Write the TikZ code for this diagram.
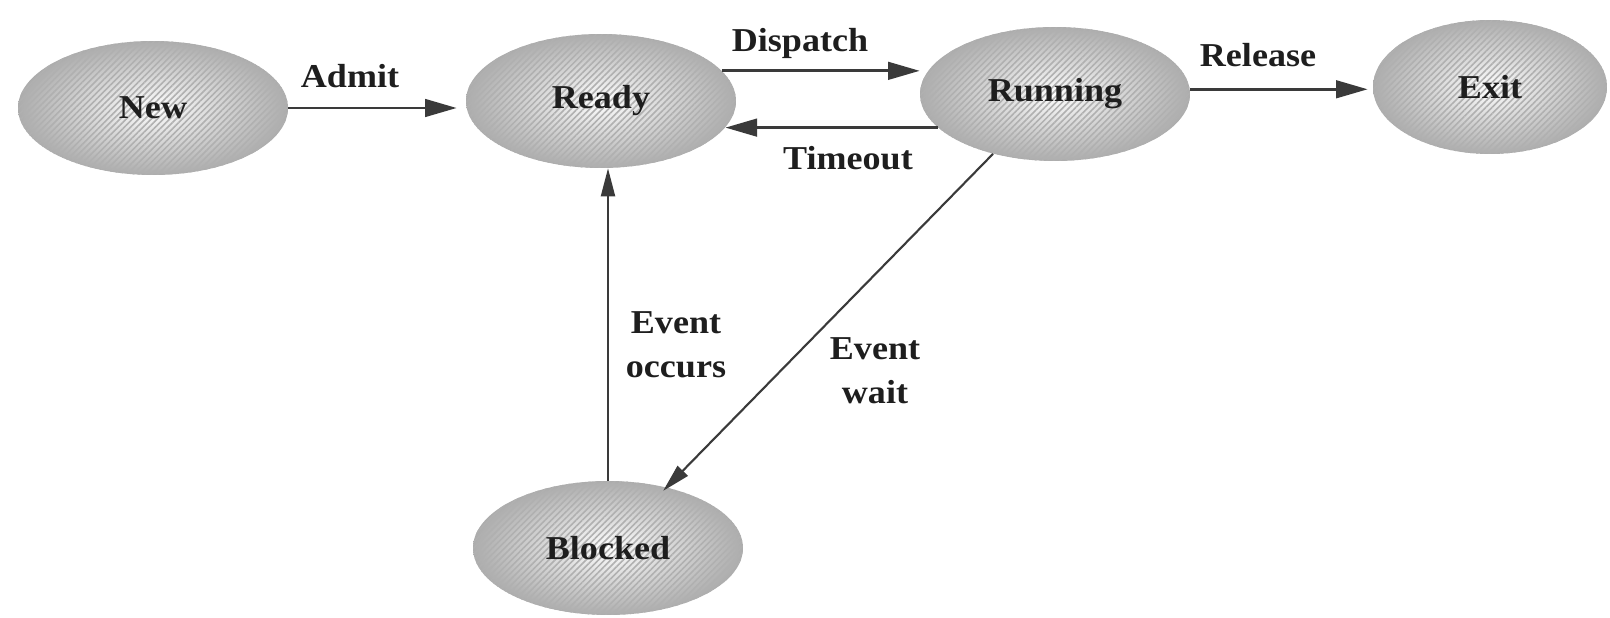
\documentclass[tikz,border=0pt]{standalone}
\usepackage{fontspec}
\setmainfont{Liberation Serif}[FakeStretch=1.08]
\usetikzlibrary{shapes.geometric,arrows.meta,patterns.meta}
\definecolor{inkc}{HTML}{1E1E1E}
\definecolor{arrc}{HTML}{3A3A3A}
\tikzset{
  state/.style={ellipse, inner sep=0pt, minimum width=5.4cm, minimum height=2.68cm,
    text=inkc, font=\fontsize{19pt}{22pt}\selectfont\bfseries,
    shading=radial, inner color=white, outer color=gray!65,
    postaction={pattern={Lines[angle=45,distance=2.5pt,line width=0.9pt]}, pattern color=gray!62}},
  lbl/.style={inner sep=0pt, text=inkc, font=\fontsize{19pt}{25pt}\selectfont\bfseries, align=center},
  arr/.style={draw=arrc, line width=1.6pt, -{Triangle[length=18pt,width=10pt]}},
  thinarr/.style={draw=arrc, line width=1.2pt, -{Triangle[length=16pt,width=8pt]}}
}
\begin{document}
\begin{tikzpicture}[x=0.02cm,y=-0.02cm]
\useasboundingbox (0,0) rectangle (1610,618);
\fill[white] (0,0) rectangle (1610,618);
\node[state] (new) at (153,108) {New};
\node[state] (ready) at (601,101) {Ready};
\node[state] (running) at (1055,94) {Running};
\node[state, minimum width=4.68cm] (exit) at (1490,87) {Exit};
\node[state] (blocked) at (608,548) {Blocked};

\draw[arr, shorten >=0.18cm] (new.east) -- (new.east -| ready.west);
\draw[arr] (ready.14.5) -- (ready.14.5 -| running.west);
\draw[arr] (running.196.2) -- (running.196.2 -| ready.-12.3);
\draw[arr, shorten >=0.1cm] (running.2) -- (running.2 -| exit.west);
\draw[thinarr, shorten >=-0.1cm] (running.224) -- (blocked.46);
\draw[thinarr] (blocked.north) -- (blocked.north |- ready.south);

\node[lbl, anchor=base] (ladmit) at (350,88) {Admit};
\node[lbl, anchor=base] (ldispatch) at (800,52) {Dispatch};
\node[lbl, anchor=base] (ltimeout) at (848,170) {Timeout};
\node[lbl, anchor=base] (lrelease) at (1258,67) {Release};
\node[lbl] (loccurs) at (676,345) {Event\\occurs};
\node[lbl] (lwait) at (875,371) {Event\\wait};
\end{tikzpicture}
\end{document}
